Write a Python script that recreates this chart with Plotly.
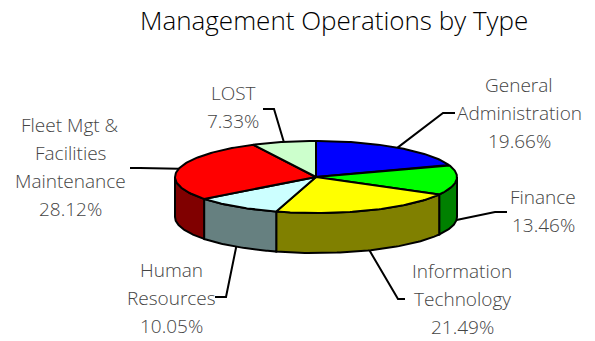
"""Management operations by type - tilted 3D pie drawn with Plotly scatter fills."""

import numpy as np
import plotly.graph_objects as go

CATEGORIES = [
    "General Administration",
    "Finance",
    "Information Technology",
    "Human Resources",
    "Fleet Mgt & Facilities Maintenance",
    "LOST",
]
VALUES = [19.66, 13.46, 21.49, 10.05, 28.12, 7.33]
LABEL_LINES = [
    ["General", "Administration"],
    ["Finance"],
    ["Information", "Technology"],
    ["Human", "Resources"],
    ["Fleet Mgt &", "Facilities", "Maintenance"],
    ["LOST"],
]

TOP_COLORS = ["#0000FF", "#00FF00", "#FFFF00", "#CCFFFF", "#FF0000", "#CCFFCC"]
SIDE_COLORS = ["#000080", "#008000", "#808000", "#668080", "#800000", "#668066"]

# Pie geometry in pixel units (the axes are mapped 1:1 onto the page).
WIDTH, HEIGHT = 595, 341
CX, CY = 316, 177
RX, RY = 141, 36
DEPTH = 40

# Label block (centre x, first-line y) and leader elbow (start, bend).
LABEL_POS = [(519, 85), (543, 197), (462, 271), (171, 270), (70, 125), (233, 93)]
LEADER_START = [(455, 113), (507, 212), (405, 299), (215, 297), (130, 168), (263, 109)]
LEADER_BEND = [(443, 113), (495, 212), (398, 299), (226, 297), (140, 168), (274, 109)]
LINE_STEP = 28

FONT = "Open Sans"
LABEL_COLOR = "#444444"


def ellipse_point(theta, drop=0.0):
    """theta in degrees, clockwise from 12 o'clock."""
    t = np.radians(theta)
    return CX + RX * np.sin(t), CY - RY * np.cos(t) + drop


def outline_trace(xs, ys, color):
    return go.Scatter(
        x=xs,
        y=ys,
        mode="lines",
        fill="toself",
        fillcolor=color,
        line=dict(color="black", width=2),
        hoverinfo="skip",
        showlegend=False,
    )


total = sum(VALUES)
bounds = np.concatenate([[0.0], np.cumsum(VALUES) / total * 360.0])

fig = go.Figure()

# Side walls: only the front half (90..270 deg) is visible.
for i in range(len(VALUES)):
    a0, a1 = max(bounds[i], 90.0), min(bounds[i + 1], 270.0)
    if a1 <= a0:
        continue
    angles = np.linspace(a0, a1, 60)
    tx, ty = ellipse_point(angles)
    bx, by = ellipse_point(angles[::-1], DEPTH)
    xs = np.concatenate([tx, bx, tx[:1]])
    ys = np.concatenate([ty, by, ty[:1]])
    fig.add_trace(outline_trace(xs, ys, SIDE_COLORS[i]))

# Top faces
for i in range(len(VALUES)):
    angles = np.linspace(bounds[i], bounds[i + 1], 80)
    ax, ay = ellipse_point(angles)
    xs = np.concatenate([[CX], ax, [CX]])
    ys = np.concatenate([[CY], ay, [CY]])
    fig.add_trace(outline_trace(xs, ys, TOP_COLORS[i]))

# Leader lines and labels
for i, value in enumerate(VALUES):
    mid = (bounds[i] + bounds[i + 1]) / 2
    front = np.cos(np.radians(mid)) < 0
    px, py = ellipse_point(mid, DEPTH if front else 0.0)
    fig.add_trace(
        go.Scatter(
            x=[LEADER_START[i][0], LEADER_BEND[i][0], px],
            y=[LEADER_START[i][1], LEADER_BEND[i][1], py],
            mode="lines",
            line=dict(color="black", width=2),
            hoverinfo="skip",
            showlegend=False,
        )
    )
    lines = LABEL_LINES[i] + [f"{value:.2f}%"]
    lx, ly = LABEL_POS[i]
    for k, text in enumerate(lines):
        fig.add_annotation(
            x=lx,
            y=ly + k * LINE_STEP,
            xref="x",
            yref="y",
            text=text,
            showarrow=False,
            font=dict(family=FONT, size=19, color=LABEL_COLOR, weight=300),
        )

fig.add_annotation(
    x=334,
    y=20,
    xref="x",
    yref="y",
    text="Management Operations by Type",
    showarrow=False,
    font=dict(family=FONT, size=26, color="black", weight=300),
)

fig.update_xaxes(range=[0, WIDTH], visible=False, fixedrange=True)
fig.update_yaxes(range=[HEIGHT, 0], visible=False, fixedrange=True)
fig.update_layout(
    width=WIDTH,
    height=HEIGHT,
    autosize=False,
    margin=dict(l=0, r=0, t=0, b=0),
    paper_bgcolor="white",
    plot_bgcolor="white",
    showlegend=False,
)

# The page's default body margin would shift the figure by 8 px.
fig.write_html(
    "out.html",
    config={"displayModeBar": False},
    post_script="document.body.style.margin = '0';",
)
